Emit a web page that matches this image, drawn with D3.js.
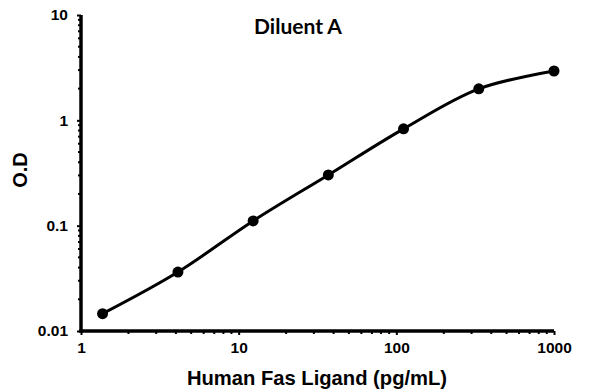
<!DOCTYPE html>
<html><head><meta charset="utf-8">
<script src="https://cdn.jsdelivr.net/npm/d3@7"></script>
<style>body{margin:0;background:#fff}svg{display:block}</style>
</head><body>
<script>
const concentrations = [1.37, 4.12, 12.35, 37.04, 111.1, 333.3, 1000];
const odValues = [0.0146, 0.0363, 0.111, 0.303, 0.83, 1.99, 2.94];
const xTickValues = [1, 10, 100, 1000];
const yTickValues = [0.01, 0.1, 1, 10];
const yTickLabels = ["0.01", "0.1", "1", "10"];
const chartTitle = "Diluent A";
const xTitle = "Human Fas Ligand (pg/mL)";
const yTitle = "O.D";

const W = 596, H = 392;
const svg = d3.select("body").append("svg").attr("width", W).attr("height", H);
const x = d3.scaleLog().domain([1, 1000]).range([81, 554]);
const y = d3.scaleLog().domain([0.01, 10]).range([331, 15]);

const xMinor = [], yMinor = [];
for (let d = 1; d < 1000; d *= 10) for (let k = 2; k <= 9; k++) xMinor.push(d * k);
for (let d = 0.01; d < 9; d *= 10) for (let k = 2; k <= 9; k++) yMinor.push(d * k);

const font = "'Liberation Sans', Arial, sans-serif";

const xAxis = svg.append("g").attr("transform", `translate(0,${y(0.01)})`)
  .call(d3.axisBottom(x).tickValues(xTickValues).tickFormat(d3.format("d")).tickSize(4).tickPadding(7));
xAxis.selectAll(".tick line").attr("stroke", "#000").attr("stroke-width", 2);
xAxis.append("g").selectAll("line").data(xMinor).join("line")
  .attr("x1", d => x(d)).attr("x2", d => x(d)).attr("y1", 0).attr("y2", 3)
  .attr("stroke", "#000").attr("stroke-width", 2);

const yAxis = svg.append("g").attr("transform", `translate(${x(1)},0)`)
  .call(d3.axisLeft(y).tickValues(yTickValues).tickFormat((d, i) => yTickLabels[i]).tickSize(4).tickPadding(9));
yAxis.selectAll(".tick line").attr("stroke", "#000").attr("stroke-width", 2);
yAxis.append("g").selectAll("line").data(yMinor).join("line")
  .attr("y1", d => y(d)).attr("y2", d => y(d)).attr("x1", 0).attr("x2", -3)
  .attr("stroke", "#000").attr("stroke-width", 2);

[xAxis, yAxis].forEach(a => {
  a.select(".domain").attr("stroke", "#000").attr("stroke-width", 3.5);
  a.selectAll(".tick text").attr("font-family", font).attr("font-weight", "bold")
    .attr("font-size", 15.5).attr("fill", "#000");
});
xAxis.select(".domain").attr("d", `M${x(1)-1.75},0H${x(1000)}`);
yAxis.select(".domain").attr("d", `M0,${y(10)}V${y(0.01)+1.75}`);

const data = concentrations.map((c, i) => [c, odValues[i]]);
svg.append("path").datum(data)
  .attr("d", d3.line().x(d => x(d[0])).y(d => y(d[1])).curve(d3.curveCatmullRom.alpha(0.5)))
  .attr("fill", "none").attr("stroke", "#000").attr("stroke-width", 3);
svg.append("g").selectAll("circle").data(data).join("circle")
  .attr("cx", d => x(d[0])).attr("cy", d => y(d[1])).attr("r", 5.5).attr("fill", "#000");

svg.append("text").attr("x", 298).attr("y", 34).attr("text-anchor", "middle")
  .attr("font-family", "Lato, 'Open Sans', sans-serif").attr("font-weight", "bold").attr("font-size", 21)
  .text(chartTitle);
svg.append("text").attr("x", 317).attr("y", 385).attr("text-anchor", "middle")
  .attr("font-family", font).attr("font-weight", "bold").attr("font-size", 20.2)
  .text(xTitle);
svg.append("text").attr("transform", "translate(27,170) rotate(-90)").attr("text-anchor", "middle")
  .attr("font-family", font).attr("font-weight", "bold").attr("font-size", 20)
  .text(yTitle);
</script>
</body></html>
